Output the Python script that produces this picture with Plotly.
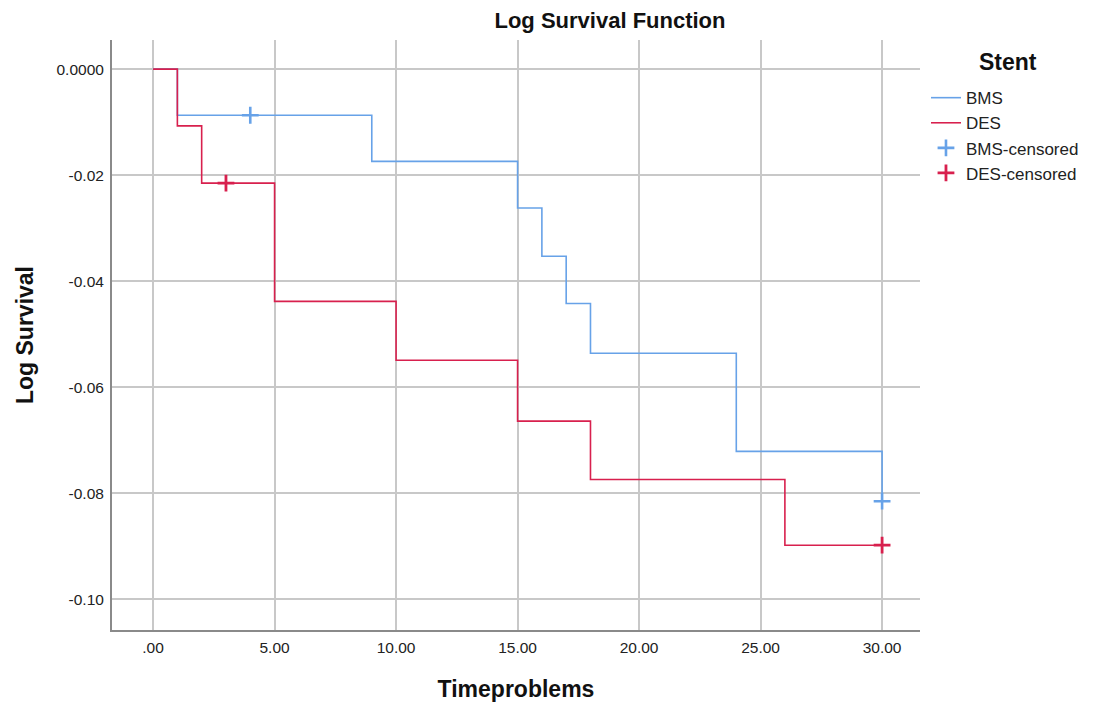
import plotly.graph_objects as go

# BMS step curve (time, log survival)
bms_t = [0, 1, 9, 15, 16, 17, 18, 24, 30]
bms_y = [0.0, -0.0087, -0.0174, -0.0262, -0.0353, -0.0442, -0.0536, -0.0721, -0.0815]
bms_cens_t = [4, 30]
bms_cens_y = [-0.0087, -0.0815]

# DES step curve
des_t = [0, 1, 2, 5, 10, 15, 18, 26, 30]
des_y = [0.0, -0.0107, -0.0215, -0.0438, -0.0549, -0.0664, -0.0774, -0.0898, -0.0898]
des_cens_t = [3, 30]
des_cens_y = [-0.0215, -0.0898]

x_ticks = [0, 5, 10, 15, 20, 25, 30]
x_labels = [".00", "5.00", "10.00", "15.00", "20.00", "25.00", "30.00"]
y_ticks = [0.0, -0.02, -0.04, -0.06, -0.08, -0.10]
y_labels = ["0.0000", "-0.02", "-0.04", "-0.06", "-0.08", "-0.10"]

BLUE = "#67a2e8"
RED = "#d8204e"

fig = go.Figure()
fig.add_trace(go.Scatter(x=bms_t, y=bms_y, mode="lines", line_shape="hv",
                         line=dict(color=BLUE, width=1.6), name="BMS"))
fig.add_trace(go.Scatter(x=des_t, y=des_y, mode="lines", line_shape="hv",
                         line=dict(color=RED, width=1.6), name="DES"))
fig.add_trace(go.Scatter(x=bms_cens_t, y=bms_cens_y, mode="markers",
                         marker=dict(symbol="cross-thin", size=12, color=BLUE,
                                     line=dict(color=BLUE, width=2.6)),
                         name="BMS-censored"))
fig.add_trace(go.Scatter(x=des_cens_t, y=des_cens_y, mode="markers",
                         marker=dict(symbol="cross-thin", size=12, color=RED,
                                     line=dict(color=RED, width=2.8)),
                         name="DES-censored"))

font_family = "Liberation Sans, Arial, sans-serif"
# the page body adds an 8px offset, so the figure is sized/margined to compensate
fig.update_layout(
    width=1086, height=694,
    margin=dict(l=104, r=174, t=32, b=72, autoexpand=False),
    paper_bgcolor="white", plot_bgcolor="white",
    font=dict(family=font_family, color="#222222", size=16),
    title=dict(text="<b>Log Survival Function</b>", x=602/1086, xanchor="center",
               y=1 - 12/694, yanchor="middle", yref="container",
               font=dict(size=22, color="#111111")),
    xaxis=dict(range=[-1.69, 31.56], tickvals=x_ticks, ticktext=x_labels,
               showgrid=True, gridcolor="#c8c8c8", gridwidth=1.6,
               showline=True, linecolor="#8a8a8a", linewidth=2,
               zeroline=False, ticks="", tickfont=dict(size=15.5), automargin=False,
               ticklabelstandoff=2,
               title=dict(text="<b>Timeproblems</b>", font=dict(size=23, color="#111111"),
                          standoff=36)),
    yaxis=dict(range=[-0.1058, 0.0055], tickvals=y_ticks, ticktext=y_labels,
               showgrid=True, gridcolor="#c8c8c8", gridwidth=1.6,
               showline=True, linecolor="#8a8a8a", linewidth=2,
               zeroline=False, ticks="", tickfont=dict(size=15.5), automargin=False,
               ticklabelstandoff=3,
               title=dict(text="<b>Log Survival</b>", font=dict(size=23, color="#111111"),
                          standoff=16)),
    legend=dict(x=1.0074, y=0.932, xanchor="left", yanchor="top",
                font=dict(size=17, color="#222222"),
                tracegroupgap=0, itemwidth=30),
    showlegend=True,
    annotations=[dict(text="<b>Stent</b>", x=1.109, y=0.963, xref="paper", yref="paper",
                      xanchor="center", yanchor="middle", showarrow=False,
                      font=dict(size=23, color="#111111"))],
)

fig.write_html("out.html")
